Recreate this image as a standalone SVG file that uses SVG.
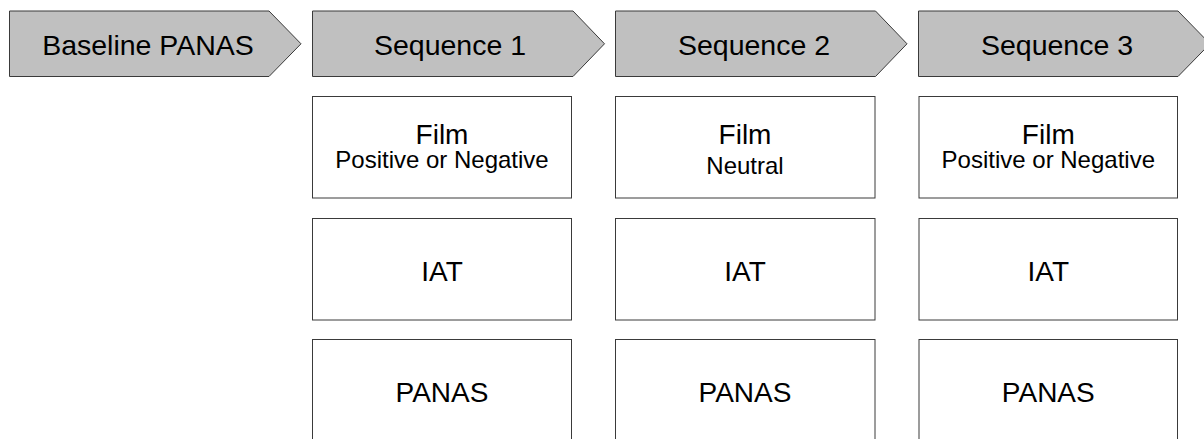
<svg xmlns="http://www.w3.org/2000/svg" width="1204" height="439" viewBox="0 0 1204 439">
  <style>
    .step { fill: #c0c0c0; stroke: #3a3a3a; stroke-width: 1; }
    .box { fill: #ffffff; stroke: #3a3a3a; stroke-width: 1; }
    text { font-family: "Liberation Sans", Arial, sans-serif; fill: #000000; text-anchor: middle; }
    .head { font-size: 28.5px; }
    .title { font-size: 28px; }
    .sub { font-size: 24px; }
  </style>
  <rect width="1204" height="439" fill="#ffffff"/>

  <!-- Header chevrons -->
  <g id="baseline-panas">
    <polygon class="step" points="9.5,11 269,11 301,43.8 269,76.5 9.5,76.5"/>
    <text class="head" x="148" y="55">Baseline PANAS</text>
  </g>
  <g id="sequence-1">
    <polygon class="step" points="312.5,11 573,11 604.5,43.8 573,76.5 312.5,76.5"/>
    <text class="head" x="450" y="55">Sequence 1</text>
  </g>
  <g id="sequence-2">
    <polygon class="step" points="615.5,11 875.5,11 907,43.8 875.5,76.5 615.5,76.5"/>
    <text class="head" x="754" y="55">Sequence 2</text>
  </g>
  <g id="sequence-3">
    <polygon class="step" points="918.5,11 1178,11 1210,43.8 1178,76.5 918.5,76.5"/>
    <text class="head" x="1057" y="55">Sequence 3</text>
  </g>

  <!-- Column 1 -->
  <g id="film-1">
    <rect class="box" x="312.5" y="96.5" width="259" height="101.5"/>
    <text class="title" x="442" y="143.5">Film</text>
    <text class="sub" x="442" y="168">Positive or Negative</text>
  </g>
  <g id="iat-1">
    <rect class="box" x="312.5" y="218.5" width="259" height="101.5"/>
    <text class="title" x="442" y="281">IAT</text>
  </g>
  <g id="panas-1">
    <rect class="box" x="312.5" y="339.5" width="259" height="102"/>
    <text class="title" x="442" y="401.5">PANAS</text>
  </g>

  <!-- Column 2 -->
  <g id="film-2">
    <rect class="box" x="615.5" y="96.5" width="259.5" height="101.5"/>
    <text class="title" x="745" y="144">Film</text>
    <text class="sub" x="745" y="173.5">Neutral</text>
  </g>
  <g id="iat-2">
    <rect class="box" x="615.5" y="218.5" width="259.5" height="101.5"/>
    <text class="title" x="745" y="281">IAT</text>
  </g>
  <g id="panas-2">
    <rect class="box" x="615.5" y="339.5" width="259.5" height="102"/>
    <text class="title" x="745" y="401.5">PANAS</text>
  </g>

  <!-- Column 3 -->
  <g id="film-3">
    <rect class="box" x="919" y="96.5" width="258.5" height="101.5"/>
    <text class="title" x="1048.3" y="143.5">Film</text>
    <text class="sub" x="1048.3" y="168">Positive or Negative</text>
  </g>
  <g id="iat-3">
    <rect class="box" x="919" y="218.5" width="258.5" height="101.5"/>
    <text class="title" x="1048.3" y="281">IAT</text>
  </g>
  <g id="panas-3">
    <rect class="box" x="919" y="339.5" width="258.5" height="102"/>
    <text class="title" x="1048.3" y="401.5">PANAS</text>
  </g>

  <!-- No connectors in this layout -->
  <g id="connectors"/>
</svg>
